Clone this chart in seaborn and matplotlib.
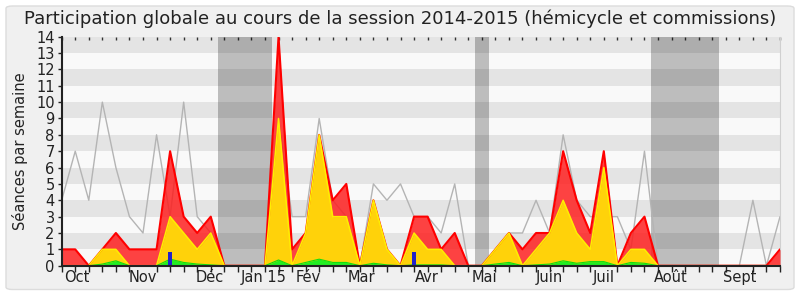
import numpy as np
import pandas as pd
import matplotlib
matplotlib.use("Agg")
import matplotlib.pyplot as plt
from matplotlib.patches import FancyBboxPatch
import seaborn as sns

# ---- data (weekly, session 2014-2015) ----
weeks = list(range(54))
total = [1, 1, 0, 1, 2, 1, 1, 1, 7, 3, 2, 3, 0, 0, 0, 0, 14, 1, 2, 8, 4, 5, 0, 4, 1, 0,
         3, 3, 1, 2, 0, 0, 1, 2, 1, 2, 2, 7, 4, 2, 7, 0, 2, 3, 0, 0, 0, 0, 0, 0, 0, 0, 0, 1]
commission = [0, 0, 0, 1, 1, 0, 0, 0, 3, 2, 1, 2, 0, 0, 0, 0, 9, 0, 2, 8, 3, 3, 0, 4, 1, 0,
              2, 1, 1, 0, 0, 0, 1, 2, 0, 1, 2, 4, 2, 1, 6, 0, 1, 1, 0, 0, 0, 0, 0, 0, 0, 0, 0, 0]
interventions = [0, 0, 0, 0.1, 0.3, 0, 0, 0, 0.4, 0.2, 0.1, 0.05, 0, 0, 0, 0, 0.35, 0, 0.2, 0.4,
                 0.2, 0.2, 0, 0.15, 0.05, 0, 0.05, 0.05, 0.05, 0, 0, 0, 0.1, 0.2, 0, 0.05, 0.1,
                 0.3, 0.15, 0.25, 0.25, 0, 0.2, 0.15, 0, 0, 0, 0, 0, 0, 0, 0, 0, 0]
median = [4, 7, 4, 10, 6, 3, 2, 8, 3, 10, 3, 2, 0, 0, 0, 0, 9, 3, 3, 9, 4, 3, 0, 5, 4, 5,
          3, 3, 2, 5, 0, 0, 1, 2, 2, 4, 2, 8, 4, 3, 3, 3, 1, 7, 0, 0, 0, 0, 0, 0, 0, 4, 0, 3]
questions_weeks = [8, 26]
questions_vals = [0.85, 0.85]
vacations = [(11.5, 15.5), (30.5, 31.5), (43.5, 48.5)]
month_pos = [1.1, 6.0, 10.95, 14.9, 18.2, 22.1, 26.95, 31.2, 35.95, 40.0, 44.95, 50.0]
month_labels = ["Oct", "Nov", "Déc", "Jan 15", "Fév", "Mar", "Avr", "Mai", "Juin", "Juil", "Août", "Sept"]
title = "Participation globale au cours de la session 2014-2015 (hémicycle et commissions)"
ylabel = "Séances par semaine"

df = pd.DataFrame({"week": weeks, "total": total, "commission": commission,
                   "interventions": interventions, "median": median})

sns.set_style("white")
plt.rcParams["font.family"] = ["DejaVu Sans"]

fig = plt.figure(figsize=(8, 3), dpi=100, facecolor="white")
panel = FancyBboxPatch((0.0075, 0.035), 0.985, 0.945, boxstyle="round,pad=0,rounding_size=0.008",
                       transform=fig.transFigure, facecolor="#f0f0f0", edgecolor="#dcdcdc",
                       linewidth=1.0, zorder=-10)
fig.patches.append(panel)

ax = fig.add_axes([0.0771, 0.1143, 0.975 - 0.0771, 0.8777 - 0.1143])
ax.set_facecolor("#f9f9f9")

# horizontal stripes
for k in range(1, 14, 2):
    ax.axhspan(k, k + 1, color="#e4e4e4", lw=0, zorder=0)
# vacation bands
for a, b in vacations:
    ax.axvspan(a, b, color="black", alpha=0.24, lw=0, zorder=1)

# median line
sns.lineplot(data=df, x="week", y="median", ax=ax, color="#b4b4b4", lw=1.0, zorder=2)

# total (red)
ax.fill_between(df["week"], df["total"], color="#ff1a1a", alpha=0.82, lw=0, zorder=3)
sns.lineplot(data=df, x="week", y="total", ax=ax, color="#ff0000", lw=1.5, zorder=4)
# commission (yellow)
ax.fill_between(df["week"], df["commission"], color="#ffd20a", lw=0, zorder=5)
sns.lineplot(data=df, x="week", y="commission", ax=ax, color="#ffee00", lw=1.1, zorder=6)
# interventions (green)
ax.fill_between(df["week"], df["interventions"], color="#22ee22", lw=0, zorder=7)
sns.lineplot(data=df, x="week", y="interventions", ax=ax, color="#11dd11", lw=0.8, zorder=7)
# questions (blue bars)
ax.bar(questions_weeks, questions_vals, width=0.35, color="#2222cc", lw=0, zorder=8)

ax.set_xlim(0, 53)
ax.set_ylim(0, 14)
ax.set_yticks(range(0, 15))
ax.set_yticklabels([str(v) for v in range(0, 15)], fontsize=10.5, color="#222222")
ax.set_xticks(month_pos)
ax.set_xticklabels(month_labels, fontsize=10.5, color="#222222")
ax.set_xticks(weeks, minor=True)
ax.tick_params(axis="x", which="major", length=0, pad=3)
ax.tick_params(axis="x", which="minor", direction="out", length=4, width=1, color="#222222", bottom=True)
ax.tick_params(axis="y", which="major", direction="out", length=3, width=1, color="#222222", left=True, pad=2)
ax.set_xlabel("")
ax.set_ylabel(ylabel, fontsize=10.5, color="#222222", labelpad=6)

sec = ax.secondary_xaxis("top")
sec.set_xticks(weeks)
sec.set_xticklabels([])
sec.tick_params(direction="in", length=2, width=1, color="#333333")
sec.spines["top"].set_visible(False)

ax.spines["top"].set_visible(False)
ax.spines["right"].set_color("#d0d0d0")
for s in ["left", "bottom"]:
    ax.spines[s].set_color("#222222")
    ax.spines[s].set_linewidth(1.5)
    ax.spines[s].set_zorder(10)

fig.text(0.5, 0.937, title, ha="center", va="center", fontsize=13, color="#222222")

fig.savefig("out.png", dpi=100, facecolor="white")
